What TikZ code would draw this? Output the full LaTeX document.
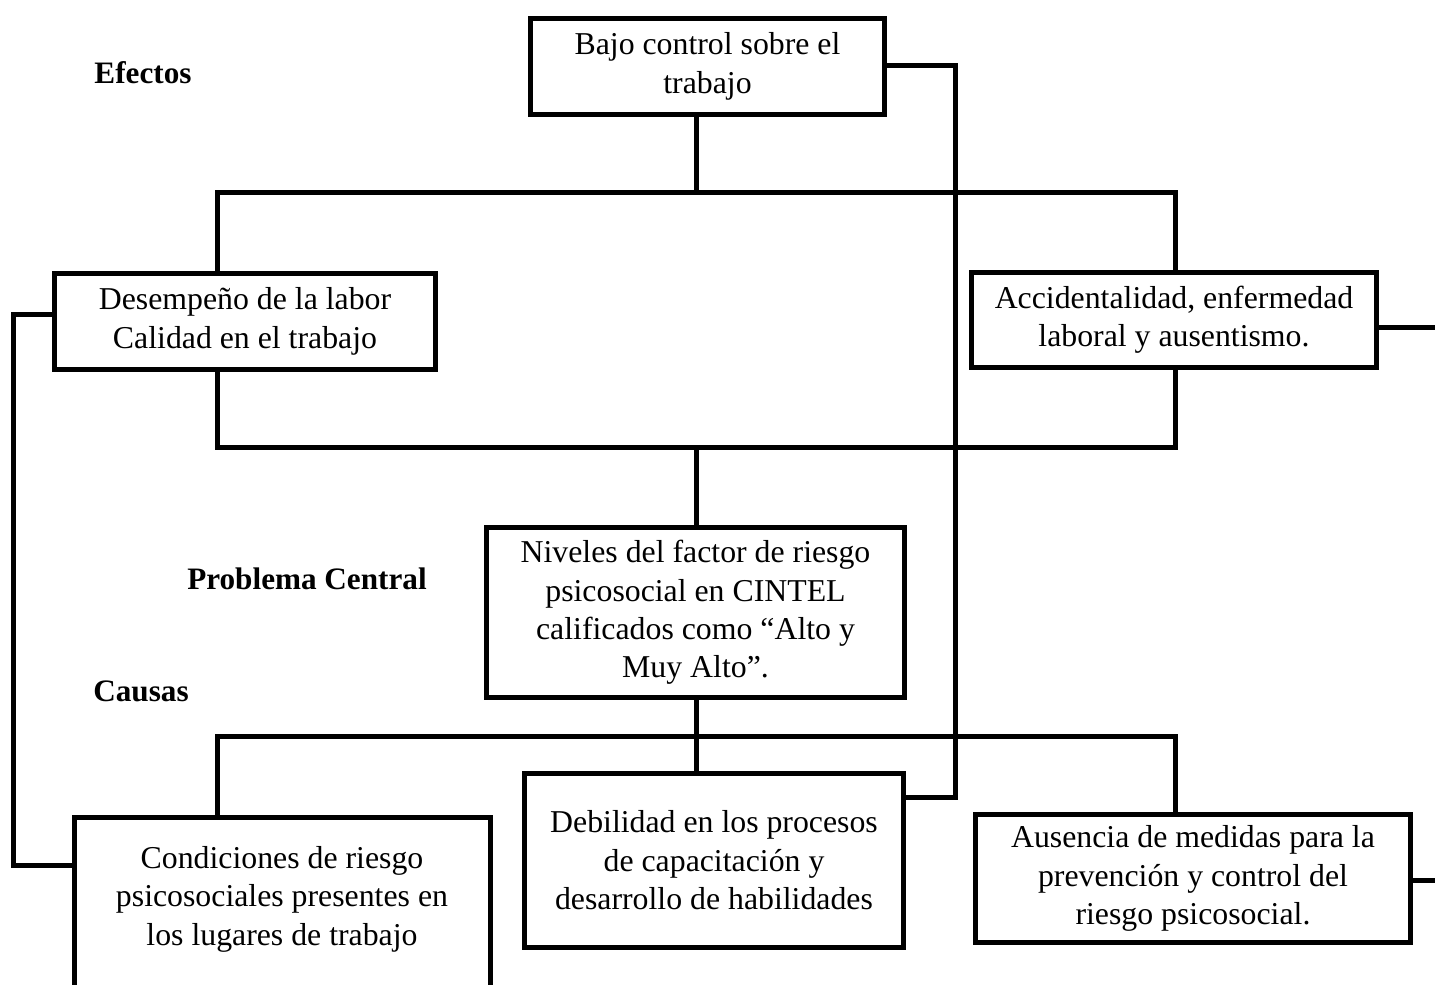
\documentclass[tikz,border=0pt]{standalone}
\usepackage{fontspec}
\setmainfont{Liberation Serif}
\begin{document}
\begin{tikzpicture}[x=0.5pt,y=-0.5pt,
  box/.style={draw=black, line width=2.5pt, inner sep=0pt, align=center, fill=white,
    font=\fontsize{15.9}{19.2}\selectfont},
  txt/.style={inner sep=0pt, align=center, font=\fontsize{15.9}{19.2}\selectfont},
  lbl/.style={inner sep=0pt, font=\fontsize{15.6}{19.2}\selectfont\bfseries},
  conn/.style={draw=black, line width=2.5pt}]
\clip (0,0) rectangle (1435,985);
\fill[white] (0,0) rectangle (1435,985);

% labels
\node[lbl] (efectos) at (143,73) {Efectos};
\node[lbl] (problema) at (307,579) {Problema Central};
\node[lbl] (causas) at (141,691) {Causas};

% boxes
\node[box, minimum width=177pt, minimum height=48pt] (bajo) at (707.5,66.5)
  {Bajo control sobre el\\trabajo};
\node[box, minimum width=190.5pt, minimum height=48pt] (desem) at (245,321.5)
  {Desempeño de la labor\\Calidad en el trabajo};
\node[box, minimum width=202.5pt, minimum height=47.5pt] (accid) at (1174,320)
  {Accidentalidad, enfermedad\\laboral y ausentismo.};
\node[box, minimum width=209pt, minimum height=85pt] (niveles) at (695.5,612.5)
  {Niveles del factor de riesgo\\psicosocial en CINTEL\\calificados como “Alto y\\Muy Alto”.};
\node[box, minimum width=189.5pt, minimum height=87pt] (debil) at (714,860.5)
  {Debilidad en los procesos\\de capacitación y\\desarrollo de habilidades};
\node[box, minimum width=217.5pt, minimum height=64pt] (ausen) at (1193,878.5)
  {Ausencia de medidas para la\\prevención y control del\\riesgo psicosocial.};
\node[box, minimum width=208pt, minimum height=100pt, anchor=north] (condbox) at (282.5,814.5) {};
\node[txt] (cond) at (282,899)
  {Condiciones de riesgo\\psicosociales presentes en\\los lugares de trabajo};

% junction coordinates
\coordinate (t0) at (696,192);
\coordinate (tl) at (217,192);
\coordinate (tr) at (1175,192);
\coordinate (ml) at (217,447);
\coordinate (mr) at (1175,447);
\coordinate (m0) at (696,447);
\coordinate (cl) at (217,736);
\coordinate (cr) at (1175,736);
\coordinate (c0) at (696,736);
\coordinate (r1) at (955,65);
\coordinate (r2) at (955,797);
\coordinate (l1) at (13,314);
\coordinate (l2) at (13,865);
\coordinate (e1) at (1445,327);
\coordinate (e2) at (1445,880);

% connectors
\draw[conn] (bajo.south -| t0) -- (t0);
\draw[conn] (desem.north -| tl) -- (tl) -- (tr) -- (accid.north -| tr);
\draw[conn] (desem.south -| ml) -- (ml) -- (mr) -- (accid.south -| mr);
\draw[conn] (m0) -- (niveles.north -| m0);
\draw[conn] (niveles.south -| c0) -- (debil.north -| c0);
\draw[conn] (condbox.north -| cl) -- (cl) -- (cr) -- (ausen.north -| cr);
\draw[conn] (bajo.east |- r1) -- (r1) -- (r2) -- (debil.east |- r2);
\draw[conn] (desem.west |- l1) -- (l1) -- (l2) -- (condbox.west |- l2);
\draw[conn] (accid.east |- e1) -- (e1);
\draw[conn] (ausen.east |- e2) -- (e2);
\end{tikzpicture}
\end{document}
